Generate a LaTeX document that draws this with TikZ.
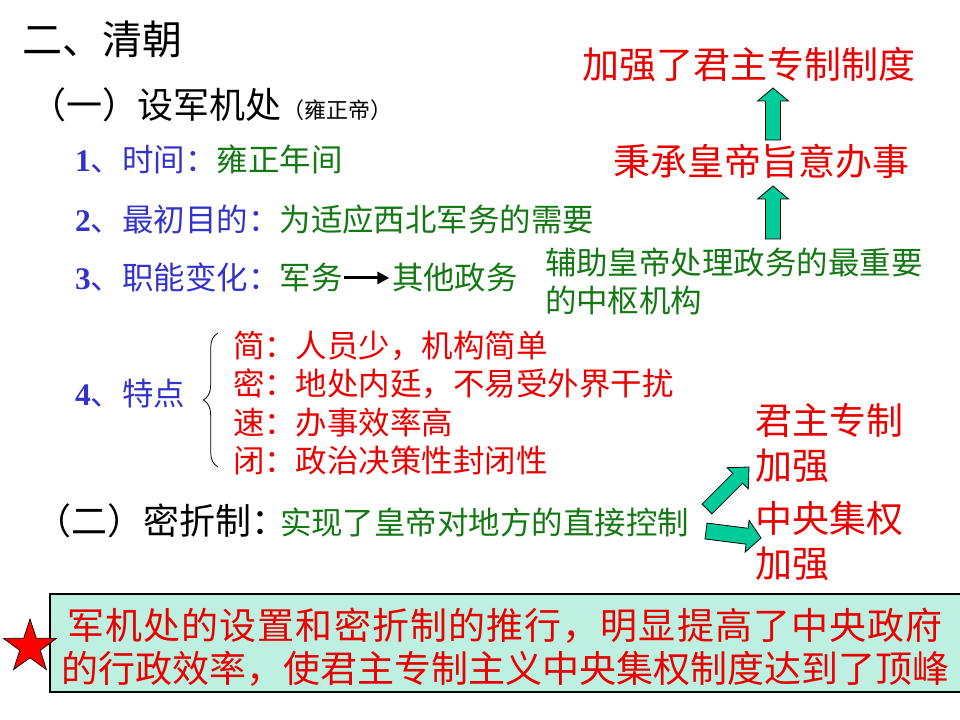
\documentclass[tikz,border=0pt]{standalone}
\usepackage{fontspec}
\setmainfont{Noto Sans CJK SC}
\newfontfamily\numf{Liberation Serif}
\usetikzlibrary{calc,shapes.geometric,decorations.pathreplacing,arrows.meta}
\definecolor{tblue}{RGB}{51,51,204}
\definecolor{tgreen}{RGB}{20,120,20}
\definecolor{tred}{RGB}{235,0,0}
\definecolor{afill}{RGB}{0,204,153}
\definecolor{boxfill}{RGB}{190,240,225}
\newcommand\fs[1]{\fontsize{#1pt}{#1pt}\selectfont}
\newcommand\blockarr[5]{%
 \filldraw[blockarrow] let \p1=(#1), \p2=(#2), \n1={atan2(\y2-\y1,\x2-\x1)} in
 ($(\p1)+(\n1+90:#3)$) -- ($(\p2)+(\n1+180:#5)+(\n1+90:#3)$) -- ($(\p2)+(\n1+180:#5)+(\n1+90:#4)$) -- (\p2) -- ($(\p2)+(\n1+180:#5)+(\n1-90:#4)$) -- ($(\p2)+(\n1+180:#5)+(\n1-90:#3)$) -- ($(\p1)+(\n1-90:#3)$) -- cycle;}
\begin{document}
\begin{tikzpicture}[x=0.75pt,y=-0.75pt,
 t/.style={anchor=base west,inner sep=0pt,outer sep=0pt},
 tc/.style={anchor=base,inner sep=0pt,outer sep=0pt},
 blockarrow/.style={fill=afill,draw=black,line width=0.6pt,line join=miter},
 boxst/.style={draw=black,fill=boxfill,line width=0.8pt,inner sep=0pt,outer sep=0pt},
 starst/.style={star,star points=5,star point ratio=2.6,minimum size=42pt,inner sep=0pt,fill=red,draw=black,line width=0.5pt},
]
\useasboundingbox (0,0) rectangle (960,720);
% headings
\node[t] (title) at (22,55) {\fs{30}二、清朝};
\node[t] (sub1) at (30,118.5) {\fs{27}（一）设军机处{\fs{16.5}（雍正帝）}};
% items
\node[t,tblue] (l1) at (75,172) {\fs{23.6}{\numf\bfseries 1}、时间：\textcolor{tgreen}{雍正年间}};
\node[t,tblue] (l2) at (75,232) {\fs{23.6}{\numf\bfseries 2}、最初目的：\textcolor{tgreen}{为适应西北军务的需要}};
\node[t,tblue] (l3) at (75,290) {\fs{23.6}{\numf\bfseries 3}、职能变化：\textcolor{tgreen}{军务}};
\node[t,tgreen] (l3b) at (392,290) {\fs{23.6}其他政务};
\draw[-{Triangle[length=9pt,width=9pt]},line width=2.2pt] ([xshift=1.5pt]l3.east) -- ([xshift=-2pt]l3.east -| l3b.west);
\node[t,tblue] (l4) at (75,405) {\fs{23.6}{\numf\bfseries 4}、特点};
% brace and features
\coordinate (bb) at (218,467);
\coordinate (bt) at (218,333);
\draw[decorate,decoration={brace,amplitude=11pt},line width=0.6pt] (bb) -- (bt);
\node[t,tred] (f1) at (233,357) {\fs{23.6}简：人员少，机构简单};
\node[t,tred] (f2) at (233,395) {\fs{23.6}密：地处内廷，不易受外界干扰};
\node[t,tred] (f3) at (233,434) {\fs{23.6}速：办事效率高};
\node[t,tred] (f4) at (233,472) {\fs{23.6}闭：政治决策性封闭性};
% right column
\node[t,tred] (top) at (582,79) {\fs{27.75}加强了君主专制制度};
\node[t,tred] (mid) at (613,176) {\fs{27.75}秉承皇帝旨意办事};
\node[t,tgreen] (fz1) at (545,275) {\fs{23.6}辅助皇帝处理政务的最重要};
\node[t,tgreen] (fz2) at (545,312) {\fs{23.6}的中枢机构};
\coordinate (a1t) at (773,140);
\coordinate (a1h) at (773,88);
\coordinate (a2t) at (773,239);
\coordinate (a2h) at (773,186);
\blockarr{a1t}{a1h}{5.6pt}{11.6pt}{9.75pt}
\blockarr{a2t}{a2h}{5.6pt}{11.6pt}{9.75pt}
% mizhe
\node[t] (mz) at (36,534) {\fs{27}（二）密折制\makebox[0.5em][l]{：}};
\node[t,tgreen] (mzt) at (280,534) {\fs{23.6}实现了皇帝对地方的直接控制};
\node[t,tred] (jz1) at (755,434) {\fs{27.75}君主专制};
\node[t,tred] (jz2) at (755,479) {\fs{27.75}加强};
\node[t,tred] (zy1) at (755,532) {\fs{27.75}中央集权};
\node[t,tred] (zy2) at (755,577) {\fs{27.75}加强};
\coordinate (d1t) at (707,509);
\coordinate (d1h) at (749,467);
\coordinate (d2t) at (706,531);
\coordinate (d2h) at (761,538);
\blockarr{d1t}{d1h}{5.25pt}{11.25pt}{12pt}
\blockarr{d2t}{d2h}{6pt}{12pt}{10.5pt}
% conclusion box
\node[boxst,anchor=north west,minimum width=700pt,minimum height=73.5pt] (box) at (50,594) {};
\node[starst] (star) at (30,647) {};
\node[tc,tred] (c1) at (505,639) {\fs{27.75}\addfontfeatures{LetterSpace=3}军机处的设置和密折制的推行，明显提高了中央政府};
\node[tc,tred] (c2) at (505,682) {\fs{27.75}的行政效率，使君主专制主义中央集权制度达到了顶峰};
\end{tikzpicture}
\end{document}
